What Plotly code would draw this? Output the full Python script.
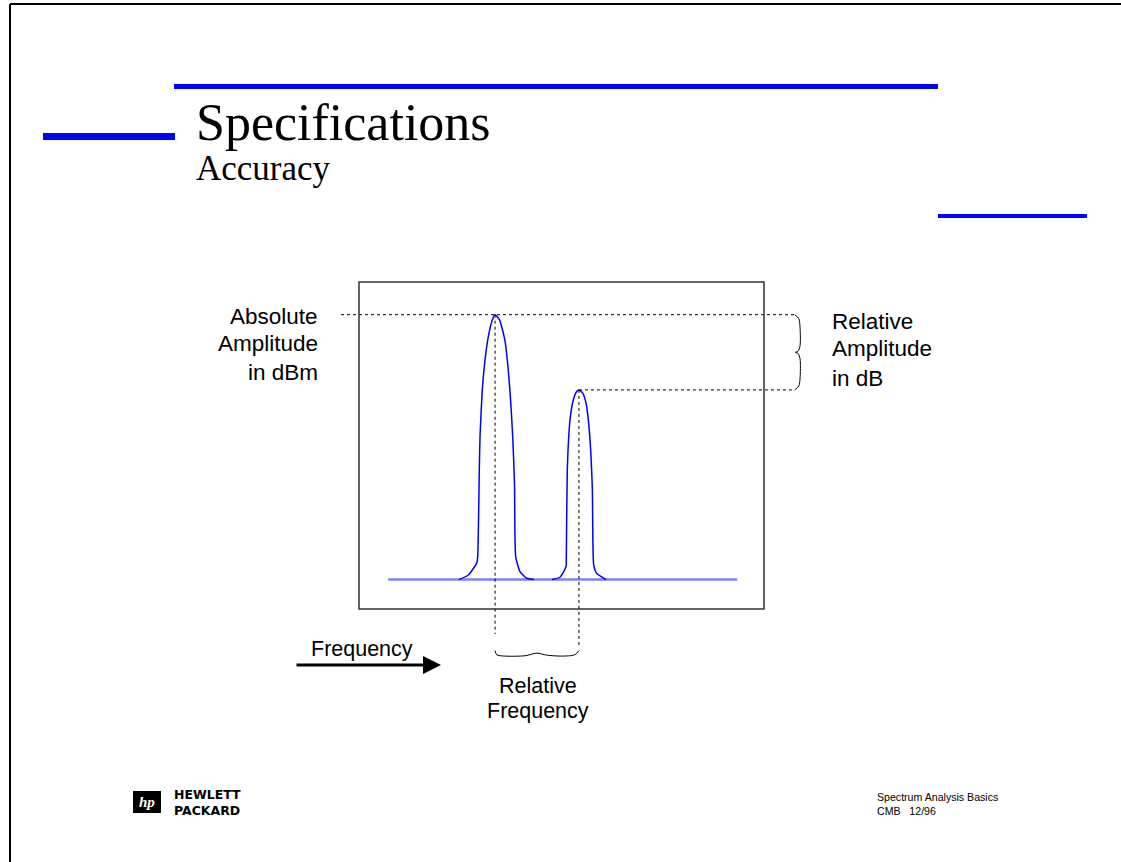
import plotly.graph_objects as go

W, H = 1121, 862

# ---- data (frequency in arbitrary units 0..100 across the display, amplitude in dBm) ----
display_freq = [0, 100]
display_amp = [-100, 0]

baseline_freq = [7.2, 93.4]
baseline_amp = [-91, -91]

peak1_freq = [24.7, 27.0, 29.06, 29.31, 29.70, 29.88, 30.44, 31.11, 31.93, 32.91, 33.6,
              34.7, 36.0, 37.0, 37.95, 38.4, 38.69, 39.75, 41.41, 43.2]
peak1_amp = [-91, -89.6, -86.0, -84.0, -57.5, -47.3, -33.0, -23.9, -16.7, -11.6, -10,
             -11.6, -17.7, -29.0, -47.3, -62.0, -84.0, -88.6, -90.6, -91]

peak2_freq = [47.7, 49.6, 51.11, 51.19, 51.43, 52.10, 52.91, 53.75, 54.3, 55.2, 56.05,
              56.86, 57.60, 57.95, 58.69, 61.0]
peak2_amp = [-91, -90.3, -87.1, -84.0, -57.5, -42.2, -36.1, -33.5, -33, -33.9, -37.0,
             -45.3, -62.6, -86.5, -89.1, -91]

peak_freqs = [33.6, 54.3]
peak_levels = [-10, -33]

amp_brace_freq = [107.6, 108.6, 108.9, 108.9, 108.4, 107.7, 108.4, 108.9, 108.9, 108.6, 107.6]
amp_brace_amp = [-10, -11.2, -14, -19.5, -21.2, -21.5, -21.8, -23.5, -29.5, -31.8, -33]

freq_brace_freq = [33.6, 34.0, 36.0, 41.0, 43.9, 46.3, 50.0, 53.3, 54.3]
freq_brace_amp = [-112.7, -114.0, -114.4, -114.3, -113.5, -114.1, -114.4, -114.0, -112.7]

# ---- pixel helpers for layout placement ----
PX_PER_F = 4.05
PX_PER_DB = 3.27
X0, Y0 = 359, 282  # pixel position of freq 0 / amp 0 (top-left of display box)


def fx(px):
    return (px - X0) / PX_PER_F


def fy(py):
    return -(py - Y0) / PX_PER_DB


def pxp(px):
    return px / W


def pyp(py):
    return 1 - py / H


fig = go.Figure()

# baseline (noise floor)
fig.add_trace(go.Scatter(x=baseline_freq, y=baseline_amp, mode="lines",
                         line=dict(color="rgba(0,0,255,0.5)", width=2.5),
                         hoverinfo="skip", showlegend=False))
# peaks
for fr, am in [(peak1_freq, peak1_amp), (peak2_freq, peak2_amp)]:
    fig.add_trace(go.Scatter(x=fr, y=am, mode="lines",
                             line=dict(color="#0000ff", width=1.5, shape="spline", smoothing=0.5),
                             hoverinfo="skip", showlegend=False))

# dotted reference lines
dot = dict(color="black", width=1, dash="dot")
fig.add_trace(go.Scatter(x=[fx(341), fx(795)], y=[peak_levels[0]] * 2, mode="lines",
                         line=dot, hoverinfo="skip", showlegend=False))
fig.add_trace(go.Scatter(x=[peak_freqs[1], fx(795)], y=[peak_levels[1]] * 2, mode="lines",
                         line=dot, hoverinfo="skip", showlegend=False))
fig.add_trace(go.Scatter(x=[peak_freqs[0]] * 2, y=[peak_levels[0], fy(634)], mode="lines",
                         line=dot, hoverinfo="skip", showlegend=False))
fig.add_trace(go.Scatter(x=[peak_freqs[1]] * 2, y=[peak_levels[1], fy(645)], mode="lines",
                         line=dot, hoverinfo="skip", showlegend=False))

# braces
fig.add_trace(go.Scatter(x=amp_brace_freq, y=amp_brace_amp, mode="lines",
                         line=dict(color="black", width=1, shape="spline", smoothing=0.8),
                         hoverinfo="skip", showlegend=False))
fig.add_trace(go.Scatter(x=freq_brace_freq, y=freq_brace_amp, mode="lines",
                         line=dict(color="black", width=1, shape="spline", smoothing=0.8),
                         hoverinfo="skip", showlegend=False))

shapes = []
# display box
shapes.append(dict(type="rect", xref="x", yref="y", x0=display_freq[0], x1=display_freq[1],
                   y0=display_amp[0], y1=display_amp[1], line=dict(color="#333333", width=1.5)))
# page border
shapes.append(dict(type="line", xref="paper", yref="paper", x0=pxp(10), x1=1, y0=pyp(4), y1=pyp(4),
                   line=dict(color="black", width=2)))
shapes.append(dict(type="line", xref="paper", yref="paper", x0=pxp(10), x1=pxp(10), y0=pyp(4), y1=0,
                   line=dict(color="black", width=2)))
# blue bars
for (xa, xb, ya, yb) in [(174, 938, 84, 89), (43, 175, 133, 140), (938, 1087, 214, 218)]:
    shapes.append(dict(type="rect", xref="paper", yref="paper", x0=pxp(xa), x1=pxp(xb),
                       y0=pyp(yb), y1=pyp(ya), fillcolor="#0000ff", line=dict(width=0)))
# HP logo block
shapes.append(dict(type="rect", xref="paper", yref="paper", x0=pxp(133), x1=pxp(161),
                   y0=pyp(813), y1=pyp(791), fillcolor="black", line=dict(width=0)))

fig.update_layout(shapes=shapes)

ann = []
sans = "Liberation Sans, Arial, sans-serif"
serif = "Liberation Serif, Times New Roman, serif"


def txt(text, px, py, size, xanchor="left", family=sans, color="black", **kw):
    ann.append(dict(text=text, x=pxp(px), y=pyp(py), xref="paper", yref="paper",
                    xanchor=xanchor, yanchor="middle", showarrow=False,
                    font=dict(family=family, size=size, color=color), **kw))


txt("Specifications", 194, 123, 52, family=serif)
txt("Accuracy", 194, 168, 35, family=serif)

txt("Absolute", 320, 316, 22.5, xanchor="right")
txt("Amplitude", 320, 344, 22.5, xanchor="right")
txt("in dBm", 320, 372, 22.5, xanchor="right")

txt("Relative", 830, 321, 22.5)
txt("Amplitude", 830, 349, 22.5)
txt("in dB", 830, 378, 22.5)

txt("Frequency", 362, 649, 21.5, xanchor="center")
txt("Relative", 538, 686, 21.5, xanchor="center")
txt("Frequency", 538, 711, 21.5, xanchor="center")

txt("<b><i>hp</i></b>", 147, 802, 15, xanchor="center", family=serif, color="white")
txt("<b>HEWLETT<br>PACKARD</b>", 172, 802, 12.5, family="DejaVu Sans, sans-serif", align="left")

txt("Spectrum Analysis Basics", 875, 797, 10.6)
txt("CMB\u00a0\u00a0\u00a012/96", 875, 811, 10.6)

# frequency arrow
ann.append(dict(x=fx(441), y=fy(665), ax=fx(295), ay=fy(665), xref="x", yref="y",
                axref="x", ayref="y", showarrow=True, arrowhead=2, arrowsize=1.2,
                arrowwidth=3, arrowcolor="black", text=""))

fig.update_layout(annotations=ann)

fig.update_layout(
    width=W, height=H, autosize=False,
    margin=dict(l=0, r=0, t=0, b=0),
    paper_bgcolor="white", plot_bgcolor="white",
    xaxis=dict(range=[fx(0), fx(W)], visible=False, fixedrange=True),
    yaxis=dict(range=[fy(H), fy(0)], visible=False, fixedrange=True),
)

fig.write_html("out.html", config={"displayModeBar": False},
               post_script="document.body.style.margin='0';")
